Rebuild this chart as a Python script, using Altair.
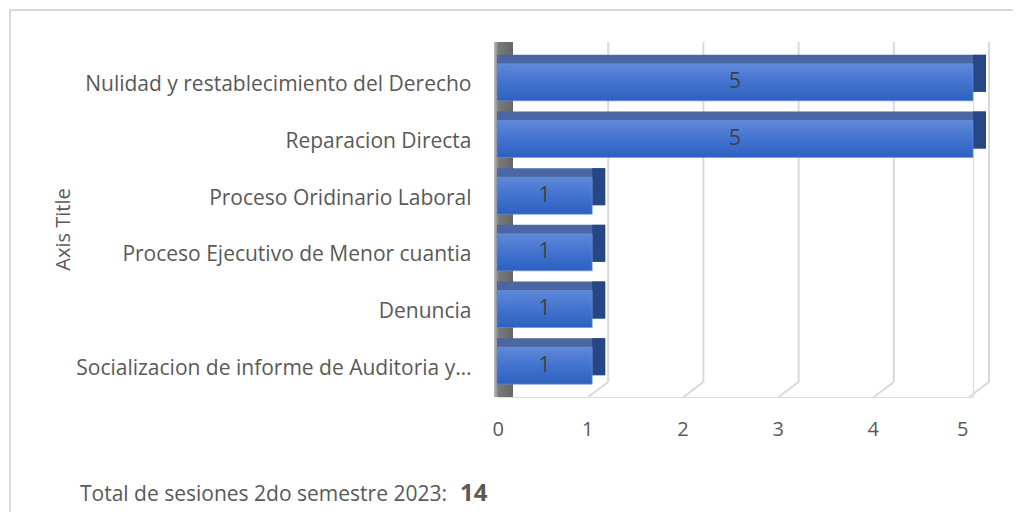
import altair as alt
import pandas as pd

categories = [
    "Nulidad y restablecimiento del Derecho",
    "Reparacion Directa",
    "Proceso Oridinario Laboral",
    "Proceso Ejecutivo de Menor cuantia",
    "Denuncia",
    "Socializacion de informe de Auditoria y\u2026",
]
values = [5, 5, 1, 1, 1, 1]
grid_ticks = [1, 2, 3, 4, 5]
axis_ticks = [0, 1, 2, 3, 4, 5]
footer_text = "Total de sesiones 2do semestre 2023:"
footer_total = "14"
axis_title = "Axis Title"

W, H = 476, 340
FONT = "Open Sans"
TXT = "#595959"
DX, DY = 16, 15      # plot depth
BDX, BDY = 13, 9     # bar depth

bars = pd.DataFrame({"cat": categories, "value": values})
bars["mid"] = bars["value"] / 2
bars["zero"] = 0
grid = pd.DataFrame({"t": grid_ticks})
one = pd.DataFrame({"z": [0]})

xs = alt.Scale(domain=[0, 5], nice=False, zero=True)
ys = alt.Scale(domain=categories, paddingInner=0, paddingOuter=0)

X_AXIS = alt.Axis(values=axis_ticks, grid=False, domain=False, ticks=False, tickSize=0,
                  labelPadding=22, labelOffset=-5, labelFontSize=20, labelColor=TXT,
                  labelFont=FONT, title=None, format="d", zindex=1)
Y_AXIS = alt.Axis(domain=False, ticks=False, tickSize=0, grid=False,
                  labelPadding=26, labelFontSize=21, labelColor=TXT, labelFont=FONT,
                  labelLimit=600,
                  title=axis_title, titleX=-434, titleY=H / 2 + 2, titleAngle=270,
                  titleAlign="center", titleBaseline="middle",
                  titleFont=FONT, titleFontSize=20, titleFontWeight="normal",
                  titleColor=TXT, zindex=1)


def xq(field):
    return alt.X(field, type="quantitative", scale=xs, axis=X_AXIS, title=None)


ybase = alt.Y("cat:N", scale=ys, sort=categories, axis=Y_AXIS, title=axis_title)

border = alt.Chart(one).mark_rect(fillOpacity=0, stroke="#d9d9d9", strokeWidth=2).encode(
    x=alt.value(-487), x2=alt.value(W + 80), y=alt.value(-47), y2=alt.value(H + 160)
)

wall = alt.Chart(one).mark_rect(
    fill=alt.Gradient(gradient="linear",
                      stops=[alt.GradientStop(color="#bdbdbd", offset=0),
                             alt.GradientStop(color="#7a7a7a", offset=0.25),
                             alt.GradientStop(color="#666666", offset=1)],
                      x1=0, x2=1, y1=0, y2=0),
    xOffset=-3, x2Offset=DX, yOffset=-DY,
).encode(x=xq("z"), x2="z:Q", y=alt.value(0), y2=alt.value(H))

back_grid = alt.Chart(grid).mark_rule(color="#d9d9d9", strokeWidth=2,
                                      xOffset=DX, yOffset=-DY, y2Offset=-DY).encode(
    x=xq("t"), y=alt.value(0), y2=alt.value(H)
)
floor_grid = alt.Chart(grid).mark_rule(color="#d9d9d9", strokeWidth=2,
                                       xOffset=-4, x2Offset=DX).encode(
    x=xq("t"), x2="t:Q", y=alt.value(H), y2=alt.value(H - DY)
)

top_face = alt.Chart(bars).mark_bar(size=37, color="#4a66a3", x2Offset=BDX,
                                    yOffset=-BDY - 3).encode(
    x=xq("zero"), x2="value:Q", y=ybase
)
side_face = alt.Chart(bars).mark_bar(size=37, color="#264685", x2Offset=BDX,
                                     yOffset=-BDY - 3).encode(
    x=xq("value"), x2="value:Q", y=ybase
)
front = alt.Chart(bars).mark_bar(
    size=37, yOffset=-3,
    fill=alt.Gradient(gradient="linear",
                      stops=[alt.GradientStop(color="#5f89d9", offset=0),
                             alt.GradientStop(color="#4373cf", offset=0.5),
                             alt.GradientStop(color="#2d60c0", offset=1)],
                      x1=0, x2=0, y1=0, y2=1),
    stroke="#6f93d6", strokeWidth=0.6,
).encode(x=xq("zero"), x2="value:Q", y=ybase)

labels = alt.Chart(bars).mark_text(fontSize=21, color="#404040", font=FONT,
                                   baseline="middle", yOffset=-3).encode(
    x=xq("mid"), y=ybase, text="value:Q"
)

foot1 = alt.Chart(one).mark_text(text=footer_text, align="left", baseline="alphabetic",
                                 fontSize=21, color=TXT, font=FONT).encode(
    x=alt.value(-417), y=alt.value(H + 104)
)
foot2 = alt.Chart(one).mark_text(text=footer_total, align="left", baseline="alphabetic",
                                 fontSize=24, fontWeight="bold", color=TXT, font=FONT).encode(
    x=alt.value(-37), y=alt.value(H + 104)
)

chart = alt.layer(border, wall, back_grid, floor_grid, top_face, side_face, front, labels,
                  foot1, foot2).properties(
    width=W, height=H,
    padding={"left": 489, "top": 49, "right": 40, "bottom": 115},
    autosize=alt.AutoSizeParams(type="none"),
).configure_view(stroke=None).configure(font=FONT)

chart.save("out.html", embed_options={"renderer": "svg", "actions": False})
